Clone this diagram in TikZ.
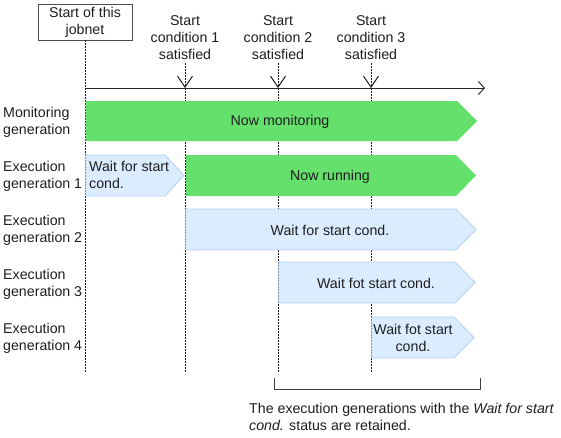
\documentclass[tikz,border=0pt]{standalone}
\usepackage{fontspec}
\setmainfont{Liberation Sans}
\usetikzlibrary{arrows.meta}
\definecolor{rungreen}{RGB}{102,224,108}
\definecolor{waitblue}{RGB}{219,236,255}
\definecolor{waitedge}{RGB}{178,208,244}
\definecolor{txtgray}{RGB}{30,30,30}
\tikzset{
  lbl/.style={font=\fontsize{14.2}{17}\selectfont, text=txtgray, inner sep=0pt, align=left},
  guide/.style={dash pattern=on 2pt off 1pt, line width=1pt, black!90},
  runbar/.style={fill=rungreen},
  waitbar/.style={fill=waitblue, draw=waitedge, line width=0.8pt},
}
\begin{document}
\begin{tikzpicture}[x=1pt,y=-1pt]
	\useasboundingbox (0,0) rectangle (561,437);
	% start of the jobnet and the conditions
	\node[lbl, draw=black!70, line width=0.8pt, align=center, minimum width=94pt, minimum height=36pt] (start) at (85,22) {Start of this\\jobnet};
	\foreach \x/\n in {185/1,278/2,371/3}{
		\node[lbl, align=center] (cond\n) at (\x,38) {Start\\condition \n\\satisfied};
		\coordinate (tick\n) at (\x,88);
		\draw[guide] (tick\n) -- (\x,372);
		\draw[guide, -{Straight Barb[length=11pt,width=15pt]}, shorten <=3pt] (cond\n.south) -- (tick\n);
	}
	\draw[guide] (start.south) -- (85,372);
	% time axis
	\coordinate (t0) at (85,88);
	\coordinate (tend) at (485,88);
	\draw[line width=0.9pt, black!85, -{Straight Barb[length=6pt,width=13pt]}] (t0) -- (tend);
	% generations
	\node[lbl, anchor=west] (lmon) at (3,122) {Monitoring\\generation};
	\node[lbl, anchor=west] (lgen1) at (3,176) {Execution\\generation 1};
	\node[lbl, anchor=west] (lgen2) at (3,230) {Execution\\generation 2};
	\node[lbl, anchor=west] (lgen3) at (3,284) {Execution\\generation 3};
	\node[lbl, anchor=west] (lgen4) at (3,338) {Execution\\generation 4};
	% bars
	\fill[runbar] (85.6,101) -- (457,101) -- (477,121) -- (457,141) -- (85.6,141) -- cycle;
	\node[lbl] (mon) at (280,122) {Now monitoring};
	\filldraw[waitbar] (85.8,155) -- (165,155) -- (184,175.5) -- (165,196) -- (85.8,196) -- cycle;
	\node[lbl, anchor=west] (wait1) at (89,174.5) {Wait for start\\cond.};
	\fill[runbar] (185.8,155) -- (456,155) -- (476,175.5) -- (456,196) -- (185.8,196) -- cycle;
	\node[lbl] (run1) at (330,176.5) {Now running};
	\filldraw[waitbar] (185.8,209) -- (456,209) -- (476,229.5) -- (456,250) -- (185.8,250) -- cycle;
	\node[lbl] (wait2) at (330,230) {Wait for start cond.};
	\filldraw[waitbar] (278.8,262) -- (455,262) -- (475,282.5) -- (455,303) -- (278.8,303) -- cycle;
	\node[lbl] (wait3) at (376,283) {Wait fot start cond.};
	\filldraw[waitbar] (371.8,317) -- (454,317) -- (474,337.5) -- (454,358) -- (371.8,358) -- cycle;
	\node[lbl, align=center] (wait4) at (413,337.5) {Wait fot start\\cond.};
	% retained generations
	\coordinate (bl) at (274,378);
	\coordinate (br) at (480,378);
	\draw[line width=0.9pt, black!75] (bl) -- ++(0,11) -| (br);
	\node[lbl, anchor=west] (note) at (249,416.5) {The execution generations with the \textit{Wait for start}\\\textit{cond.} status are retained.};
\end{tikzpicture}
\end{document}
